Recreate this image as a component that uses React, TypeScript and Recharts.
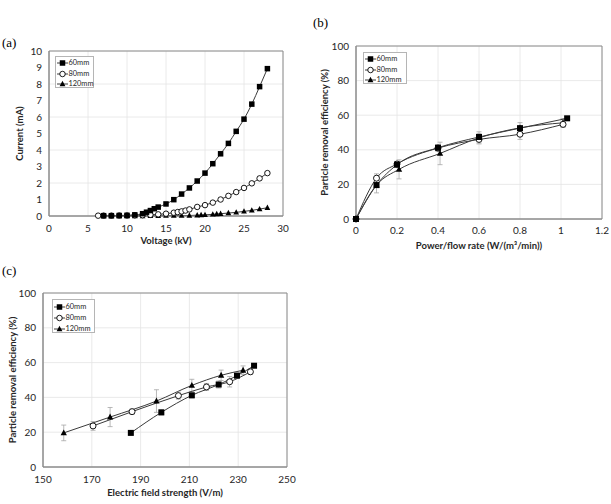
import React from 'react';
import { LineChart, Line, XAxis, YAxis, CartesianGrid, ErrorBar, ReferenceArea } from 'recharts';

const FONT = 'Lato, "Open Sans", sans-serif';
const INK = '#262626';
const GRID = '#e4e4e4';
const FRAME = '#8c8c8c';
const LINE = '#3a3a3a';
const ERR = '#a6a6a6';

// (a) discharge current vs applied voltage
const volt60 = [7, 8, 9, 10, 11, 12, 12.5, 13, 13.5, 14, 15, 16, 17, 18, 19, 20, 21, 22, 23, 24, 25, 26, 27, 28];
const amp60 = [0.02, 0.02, 0.03, 0.04, 0.07, 0.14, 0.23, 0.33, 0.44, 0.54, 0.73, 0.99, 1.33, 1.7, 2.12, 2.6, 3.17, 3.77, 4.4, 5.13, 5.87, 6.78, 7.84, 8.93];
const volt80 = [6.3, 7, 8, 9, 10, 11, 12, 13, 14, 15, 16, 16.5, 17, 17.5, 18, 19, 20, 21, 22, 23, 24, 25, 26, 27, 28];
const amp80 = [0.02, 0.02, 0.02, 0.03, 0.03, 0.04, 0.05, 0.07, 0.1, 0.14, 0.2, 0.24, 0.28, 0.33, 0.4, 0.55, 0.66, 0.81, 1.0, 1.22, 1.45, 1.7, 1.98, 2.28, 2.6];
const volt120 = [7, 8, 9, 10, 11, 12, 13, 14, 15, 16, 17, 18, 19, 19.5, 20, 21, 21.5, 22, 23, 24, 25, 26, 27, 28];
const amp120 = [0, 0, 0, 0, 0, 0, 0.01, 0.01, 0.02, 0.02, 0.02, 0.03, 0.05, 0.06, 0.07, 0.1, 0.12, 0.14, 0.18, 0.22, 0.28, 0.34, 0.42, 0.5];
const voltTicks = [0, 5, 10, 15, 20, 25, 30];
const ampTicks = [0, 1, 2, 3, 4, 5, 6, 7, 8, 9, 10];

// removal efficiency (%) and its spread, shared by (b) and (c)
const eff60 = [19.6, 31.4, 41.2, 47.4, 52.5, 58.2];
const sd60 = [1, 1.5, 1.5, 2, 1.5, 1];
const eff80 = [23.6, 31.8, 41, 46, 49, 54.7];
const sd80 = [2.5, 1.5, 2, 2, 3, 1.5];
const eff120 = [19.6, 28.7, 37.9, 46.9, 52.7, 55.6];
const sd120 = [4.5, 5.5, 6.5, 3.5, 3, 2.5];

// (b) power per flow rate, W/(m3/min)
const pf60 = [0.1, 0.2, 0.4, 0.6, 0.8, 1.03];
const pf80 = [0.1, 0.2, 0.4, 0.6, 0.8, 1.01];
const pf120 = [0.1, 0.21, 0.41, 0.6, 0.8, 1.01];
const pfTicks = [0, 0.2, 0.4, 0.6, 0.8, 1, 1.2];

// (c) electric field strength, V/m
const ef60 = [186, 198.5, 211, 222, 229.5, 236.5];
const ef80 = [170.5, 186.5, 205.5, 217, 226.5, 235];
const ef120 = [158.5, 177.5, 196.5, 211, 223, 232];
const efTicks = [150, 170, 190, 210, 230, 250];
const effTicks = [0, 20, 40, 60, 80, 100];

const gapLabels = ['60mm', '80mm', '120mm'];

type Pt = { x: number; y: number; err: number };
type Marker = 'square' | 'circle' | 'triangle';

const zip = (xs: number[], ys: number[], errs?: number[]): Pt[] =>
  xs.map((x, i) => ({ x, y: ys[i], err: errs ? errs[i] : 0 }));

const withOrigin = (pts: Pt[]): Pt[] => [{ x: 0, y: 0, err: 0 }, ...pts];

function markerShape(kind: Marker, size: number, cx: number, cy: number, key?: string) {
  const h = size / 2;
  if (kind === 'square')
    return <rect key={key} x={cx - h} y={cy - h} width={size} height={size} fill="#000" />;
  if (kind === 'circle')
    return <circle key={key} cx={cx} cy={cy} r={h} fill="#fff" stroke="#000" strokeWidth={0.9} />;
  return (
    <polygon
      key={key}
      points={`${cx},${cy - h * 1.15} ${cx + h * 1.05},${cy + h * 0.8} ${cx - h * 1.05},${cy + h * 0.8}`}
      fill="#000"
    />
  );
}

const dotOf = (kind: Marker, size: number) => (props: any) => {
  const { cx, cy, index } = props;
  if (cx == null || cy == null) return <g key={`d-${index}`} />;
  return markerShape(kind, size, cx, cy, `d-${index}`);
};

type Series = { name: string; data: Pt[]; marker: Marker; size: number };

interface PanelProps {
  left: number;
  top: number;
  width: number;
  height: number;
  margin: { top: number; right: number; bottom: number; left: number };
  yWidth: number;
  xHeight: number;
  xDomain: [number, number];
  xTicks: number[];
  yDomain: [number, number];
  yTicks: number[];
  xTitle: string;
  yTitle: string;
  xTitleOffset: number;
  yTitleOffset: number;
  xTickMargin: number;
  series: Series[];
  errorBars?: boolean;
}

function Panel(p: PanelProps) {
  const titleStyle = { fontSize: 9.5, fontWeight: 700, fill: INK };
  return (
    <div style={{ position: 'absolute', left: p.left, top: p.top, fontFamily: FONT }}>
      <LineChart width={p.width} height={p.height} margin={p.margin}>
        <CartesianGrid stroke={GRID} strokeWidth={0.8} />
        <XAxis
          type="number"
          dataKey="x"
          domain={p.xDomain}
          ticks={p.xTicks}
          height={p.xHeight}
          stroke={FRAME}
          tickLine={false}
          tickMargin={p.xTickMargin}
          tick={{ fontSize: 10, fill: INK }}
          label={{ value: p.xTitle, position: 'insideBottom', offset: p.xTitleOffset, ...titleStyle }}
        />
        <YAxis
          type="number"
          dataKey="y"
          domain={p.yDomain}
          ticks={p.yTicks}
          width={p.yWidth}
          stroke={FRAME}
          tickLine={false}
          tickMargin={1}
          tick={{ fontSize: 10, fill: INK }}
          label={{
            value: p.yTitle,
            angle: -90,
            position: 'insideLeft',
            offset: p.yTitleOffset,
            style: { textAnchor: 'middle' },
            ...titleStyle,
          }}
        />
        <ReferenceArea
          x1={p.xDomain[0]}
          x2={p.xDomain[1]}
          y1={p.yDomain[0]}
          y2={p.yDomain[1]}
          fill="none"
          fillOpacity={0}
          stroke={FRAME}
          strokeWidth={1}
          ifOverflow="visible"
        />
        {p.series.map((s) => (
          <Line
            key={s.name}
            name={s.name}
            data={s.data}
            dataKey="y"
            type="monotone"
            stroke={LINE}
            strokeWidth={1}
            dot={dotOf(s.marker, s.size)}
            activeDot={false}
            isAnimationActive={false}
          >
            {p.errorBars && (
              <ErrorBar dataKey="err" direction="y" width={2.5} stroke={ERR} strokeWidth={0.8} isAnimationActive={false} />
            )}
          </Line>
        ))}
      </LineChart>
    </div>
  );
}

const legendMarkers: Marker[] = ['square', 'circle', 'triangle'];

function KeyBox({ left, top, width, height, rows }: { left: number; top: number; width: number; height: number; rows: number[] }) {
  return (
    <div
      style={{
        position: 'absolute',
        left,
        top,
        width,
        height,
        boxSizing: 'border-box',
        border: '1px solid #b5b5b5',
        background: '#fff',
        fontFamily: FONT,
      }}
    >
      {gapLabels.map((lab, i) => (
        <div key={lab} style={{ position: 'absolute', left: 1, top: rows[i] - top - 5, height: 10, display: 'flex', alignItems: 'center' }}>
          <svg width={11} height={10}>
            <line x1={0} y1={5} x2={11} y2={5} stroke={LINE} strokeWidth={1} />
            {markerShape(legendMarkers[i], 5.5, 5.5, 5)}
          </svg>
          <span style={{ fontSize: 7.4, color: INK, marginLeft: 0.5, lineHeight: '10px' }}>{lab}</span>
        </div>
      ))}
    </div>
  );
}

const tag = { position: 'absolute' as const, fontFamily: '"Liberation Serif", "Times New Roman", serif', fontSize: 13, lineHeight: '13px', color: '#000' };

export default function App() {
  const seriesA: Series[] = [
    { name: gapLabels[2], data: zip(volt120, amp120), marker: 'triangle', size: 5.5 },
    { name: gapLabels[1], data: zip(volt80, amp80), marker: 'circle', size: 5.5 },
    { name: gapLabels[0], data: zip(volt60, amp60), marker: 'square', size: 5.5 },
  ];
  const seriesB: Series[] = [
    { name: gapLabels[2], data: withOrigin(zip(pf120, eff120, sd120)), marker: 'triangle', size: 6 },
    { name: gapLabels[1], data: withOrigin(zip(pf80, eff80, sd80)), marker: 'circle', size: 6 },
    { name: gapLabels[0], data: withOrigin(zip(pf60, eff60, sd60)), marker: 'square', size: 6 },
  ];
  const seriesC: Series[] = [
    { name: gapLabels[2], data: zip(ef120, eff120, sd120), marker: 'triangle', size: 6 },
    { name: gapLabels[1], data: zip(ef80, eff80, sd80), marker: 'circle', size: 6 },
    { name: gapLabels[0], data: zip(ef60, eff60, sd60), marker: 'square', size: 6 },
  ];

  return (
    <div style={{ position: 'absolute', left: 0, top: 0, width: 611, height: 504, background: '#fff', overflow: 'hidden' }}>
      <div style={{ ...tag, left: 2, top: 36 }}>(a)</div>
      <div style={{ ...tag, left: 313, top: 16 }}>(b)</div>
      <div style={{ ...tag, left: 2, top: 264 }}>(c)</div>

      <Panel
        left={0}
        top={30}
        width={300}
        height={230}
        margin={{ top: 21, right: 17, bottom: 14, left: 21 }}
        yWidth={28}
        xHeight={30}
        xDomain={[0, 30]}
        xTicks={voltTicks}
        yDomain={[0, 10]}
        yTicks={ampTicks}
        xTitle="Voltage (kV)"
        yTitle="Current (mA)"
        xTitleOffset={2}
        yTitleOffset={-1}
        xTickMargin={3}
        series={seriesA}
      />
      <Panel
        left={310}
        top={0}
        width={301}
        height={260}
        margin={{ top: 46, right: 9, bottom: 9, left: 16 }}
        yWidth={30}
        xHeight={32}
        xDomain={[0, 1.2]}
        xTicks={pfTicks}
        yDomain={[0, 100]}
        yTicks={effTicks}
        xTitle="Power/flow rate (W/(m³/min))"
        yTitle="Particle removal efficiency (%)"
        xTitleOffset={2}
        yTitleOffset={-1}
        xTickMargin={2}
        series={seriesB}
        errorBars
      />
      <Panel
        left={0}
        top={260}
        width={300}
        height={244}
        margin={{ top: 33, right: 13, bottom: 5, left: 15 }}
        yWidth={28}
        xHeight={32}
        xDomain={[150, 250]}
        xTicks={efTicks}
        yDomain={[0, 100]}
        yTicks={effTicks}
        xTitle="Electric field strength (V/m)"
        yTitle="Particle removal efficiency (%)"
        xTitleOffset={3}
        yTitleOffset={-2}
        xTickMargin={3}
        series={seriesC}
        errorBars
      />

      <KeyBox left={55} top={56} width={39} height={32} rows={[62, 73, 83]} />
      <KeyBox left={363} top={52} width={44} height={32} rows={[58, 69, 79]} />
      <KeyBox left={52} top={299} width={43} height={34} rows={[306, 317, 328]} />
    </div>
  );
}
